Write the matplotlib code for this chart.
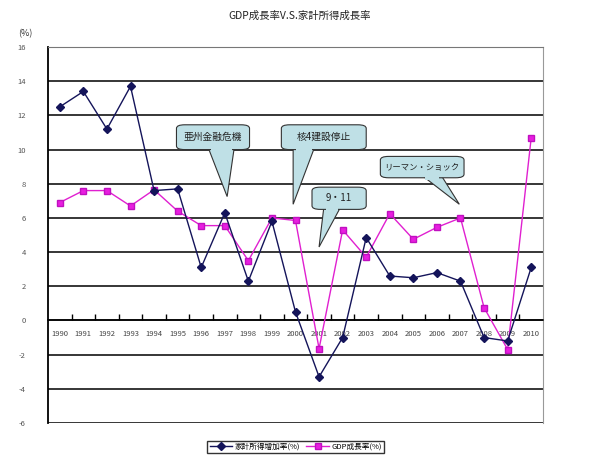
import matplotlib.pyplot as plt
from matplotlib.patches import FancyBboxPatch, Polygon, Rectangle

plt.rcParams['font.family'] = ['Noto Sans CJK JP', 'DejaVu Sans']

years = [str(y) for y in range(1990, 2011)]
income = [12.5, 13.4, 11.2, 13.7, 7.6, 7.7, 3.1, 6.3, 2.3, 5.8, 0.5,
          -3.3, -1.0, 4.85, 2.6, 2.5, 2.8, 2.3, -1.0, -1.2, 3.1]
gdp = [6.9, 7.6, 7.6, 6.7, 7.65, 6.4, 5.55, 5.55, 3.5, 6.0, 5.85,
       -1.65, 5.3, 3.7, 6.25, 4.75, 5.45, 6.0, 0.75, -1.7, 10.7]
yticks = list(range(-6, 17, 2))

# callouts: text, box (x0, x1, y0, y1), pointer base (xa, xb), tip (x, y)
callouts = [
    ('亜州金融危機', (4.95, 8.05, 10.0, 11.45), (6.3, 7.4), (7.1, 7.25)),
    ('核4建設停止', (9.4, 13.0, 10.0, 11.45), (9.9, 10.8), (9.9, 6.8)),
    ('9・11', (10.7, 13.0, 6.5, 7.8), (11.2, 11.9), (11.0, 4.3)),
    ('リーマン・ショック', (13.6, 17.15, 8.35, 9.6), (15.4, 16.2), (16.95, 6.8)),
]

fig = plt.figure(figsize=(6, 4.63), dpi=100)
ax = fig.add_axes([0.08, 0.0864, 0.825, 0.812])

x = list(range(len(years)))
ax.set_xlim(-0.5, len(years) - 0.5)
ax.set_ylim(-6, 16)

for v in yticks:
    ax.axhline(v, color='black', lw=1.1, zorder=1)

ax.plot(x, income, color='#14145a', lw=1, marker='D', ms=4,
        mfc='#14145a', mec='#14145a', zorder=4, label='家計所得增加率(%)')
ax.plot(x, gdp, color='#e020d0', lw=1, marker='s', ms=4.5,
        mfc='#e81ee0', mec='#c010c0', zorder=3, label='GDP成長率(%)')

box_col = '#bfe0e6'
for text, (x0, x1, y0, y1), (xa, xb), (tx, ty) in callouts:
    tri = Polygon([(xa, y0 + 0.1), (xb, y0 + 0.1), (tx, ty)], closed=True,
                  fc=box_col, ec='#333333', lw=0.8, zorder=5)
    ax.add_patch(tri)
    box = FancyBboxPatch((x0, y0), x1 - x0, y1 - y0,
                         boxstyle='round,pad=0,rounding_size=0.35',
                         mutation_aspect=0.6, fc=box_col, ec='#333333',
                         lw=0.8, zorder=6)
    ax.add_patch(box)
    # hide the box outline where the pointer joins it
    cover = Rectangle((xa + 0.1, y0 - 0.12), xb - xa - 0.2, 0.3,
                      fc=box_col, ec='none', zorder=7)
    ax.add_patch(cover)
    ax.text((x0 + x1) / 2, (y0 + y1) / 2, text, ha='center', va='center',
            fontsize=7 if len(text) < 9 else 6, color='#222222', zorder=8)

ax.set_yticks(yticks)
ax.set_yticklabels([str(v) for v in yticks], fontsize=5.5, color='#555555')
ax.tick_params(axis='y', length=0, pad=16)

ax.spines['bottom'].set_position(('data', 0))
ax.spines['bottom'].set_linewidth(1.1)
ax.set_xticks(x)
ax.set_xticklabels(years, fontsize=5.5, color='#444444')
ax.set_xticks([i + 0.5 for i in x[:-1]], minor=True)
ax.tick_params(axis='x', which='major', length=0, pad=7)
ax.tick_params(axis='x', which='minor', direction='in', length=4, width=1)
ax.spines['left'].set_linewidth(1.3)
ax.spines['top'].set_color('#777777')
ax.spines['right'].set_color('#999999')

fig.text(0.5, 0.965, 'GDP成長率V.S.家計所得成長率', ha='center', va='center',
         fontsize=7.5, color='#222222')
fig.text(0.042, 0.928, '(%)', ha='center', va='center', fontsize=6.5,
         color='#333333')

fig.legend(loc='center', bbox_to_anchor=(0.493, 0.035), ncol=2,
           fontsize=5.5, frameon=True, fancybox=False, edgecolor='black',
           handlelength=3, columnspacing=0.8, handletextpad=0.3,
           borderpad=0.3)

fig.savefig('out.png', dpi=100)
